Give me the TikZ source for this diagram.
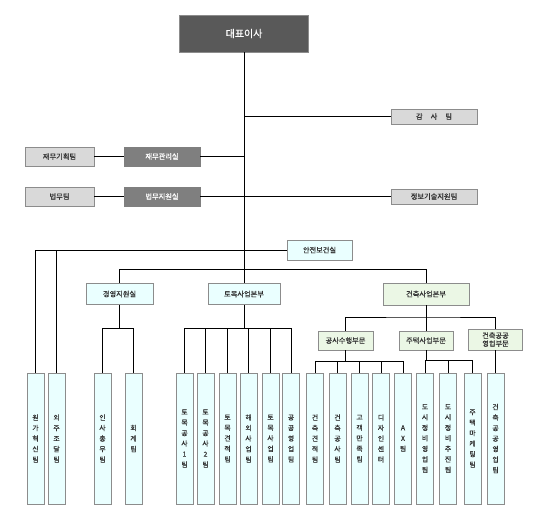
\documentclass[tikz,border=0pt]{standalone}
\usepackage{fontspec}
\newfontfamily\kr[FakeBold=0.5]{Noto Sans CJK KR}
\usepackage{tikz}
\usetikzlibrary{calc,positioning}
\definecolor{ceogray}{HTML}{595959}
\definecolor{midgray}{HTML}{7F7F7F}
\definecolor{lightgray}{HTML}{D9D9D9}
\definecolor{lightcyan}{HTML}{EAFFFF}
\definecolor{lightgreen}{HTML}{EBF7E5}
\definecolor{edgegray}{HTML}{8C8C8C}
\definecolor{textgray}{HTML}{333333}
\tikzset{
	box/.style={draw=edgegray,line width=0.6pt,inner sep=0pt,align=center,text=textgray,font=\kr\fontsize{7.2}{8}\selectfont},
	ceobox/.style={box,fill=ceogray,text=white,minimum width=129pt,minimum height=37pt,font=\kr\fontsize{10}{12}\selectfont},
	roombox/.style={box,draw=midgray,fill=midgray,text=white,minimum width=76pt,minimum height=19pt},
	sidebox/.style={box,fill=lightgray},
	unitbox/.style={box,fill=lightcyan,minimum height=21pt},
	archbox/.style={box,fill=lightgreen},
	teambox/.style={box,fill=lightcyan,minimum width=17pt,minimum height=131pt,font=\kr\fontsize{6.8}{10.5}\selectfont},
	link/.style={line width=0.7pt}
}
\begin{document}
\begin{tikzpicture}[x=1pt,y=-1pt]
			\useasboundingbox[fill=white] (0,0) rectangle (541,522);
			\node[ceobox] (ceo) at (244,33.5) {대표이사};
			\node[sidebox,minimum width=86pt,minimum height=15pt] (audit) at (434,116.5) {감\hspace{8pt}사\hspace{8pt}팀};
			\node[sidebox,minimum width=69pt,minimum height=19pt] (finplan) at (59.5,156.5) {재무기획팀};
			\node[roombox] (finroom) at (162,156.5) {재무관리실};
			\node[sidebox,minimum width=69pt,minimum height=19pt] (legal) at (59.5,196.5) {법무팀};
			\node[roombox] (legalroom) at (162,196.5) {법무지원실};
			\node[sidebox,minimum width=86pt,minimum height=15pt] (itteam) at (434,196.5) {정보기술지원팀};
			\node[unitbox,minimum width=65pt,minimum height=20pt] (safety) at (319.5,250) {안전보건실};
			\node[unitbox,minimum width=67pt] (mgmt) at (119.5,294) {경영지원실};
			\node[unitbox,minimum width=72pt] (civil) at (244,294) {토목사업본부};
			\node[archbox,minimum width=86pt,minimum height=22pt] (arch) at (426,294) {건축사업본부};
			\node[archbox,minimum width=55pt,minimum height=19pt] (construct) at (345.5,340.5) {공사수행부문};
			\node[archbox,minimum width=54pt,minimum height=19pt] (housing) at (426,340.5) {주택사업부문};
			\node[archbox,minimum width=54pt,minimum height=21pt] (public) at (495.5,339.5) {건축공공\\영업부문};
			\foreach \n/\x/\t in {
				t1/35.5/{원\\가\\혁\\신\\팀},
				t2/56.5/{외\\주\\조\\달\\팀},
				t3/102.5/{인\\사\\총\\무\\팀},
				t4/133.5/{회\\계\\팀},
				t5/184.5/{토\\목\\공\\사\\1\\팀},
				t6/205.5/{토\\목\\공\\사\\2\\팀},
				t7/227.5/{토\\목\\견\\적\\팀},
				t8/248.5/{해\\외\\사\\업\\팀},
				t9/270.5/{토\\목\\사\\업\\팀},
				t10/291/{공\\공\\영\\업\\팀},
				t11/315/{건\\축\\견\\적\\팀},
				t12/337.5/{건\\축\\공\\사\\팀},
				t13/359.5/{고\\객\\만\\족\\팀},
				t14/381/{디\\자\\인\\센\\터},
				t15/403/{A\\X\\팀},
				t16/425/{도\\시\\정\\비\\영\\업\\팀},
				t17/448/{도\\시\\정\\비\\추\\진\\팀},
				t18/472.5/{주\\택\\마\\케\\팅\\팀},
				t19/495.5/{건\\축\\공\\공\\영\\업\\팀}}
				\node[teambox] (\n) at (\x,438.5) {\t};
			\draw[link] (ceo) -- (civil);
			\draw[link] (audit) -- (audit -| ceo);
			\draw[link] (finplan) -- (finroom) -- (finroom -| ceo);
			\draw[link] (legal) -- (legalroom) -- (itteam);
			\draw[link] (safety) -- (safety -| t1) -- (t1);
			\draw[link] (safety -| t2) -- (t2);
			\draw[link] (mgmt.north) -- ++(0,-14) -| (arch.north);
			\draw[link] (mgmt.south) -- ++(0,24) coordinate (mbus);
			\draw[link] (t3) |- (mbus) -| (t4);
			\draw[link] (civil.south) -- ++(0,24) coordinate (cbus);
			\draw[link] (t5) |- (cbus) -| (t10);
			\foreach \t in {t6,t7,t8,t9}
				\draw[link] (\t) -- (\t |- cbus);
			\draw[link] (arch) -- (housing);
			\coordinate (abus) at (426,317);
			\draw[link] (construct) |- (abus) -| (public);
			\draw[link] (construct.south) -- ++(0,11) coordinate (sbus);
			\draw[link] (t11) |- (sbus) -| (t15);
			\foreach \t in {t12,t13,t14}
				\draw[link] (\t) -- (\t |- sbus);
			\draw[link] (housing.south) -- ++(0,10) coordinate (hbus);
			\draw[link] (t16) |- (hbus) -| (t18);
			\draw[link] (t17) -- (t17 |- hbus);
			\draw[link] (public) -- (t19);
		\end{tikzpicture}
\end{document}
